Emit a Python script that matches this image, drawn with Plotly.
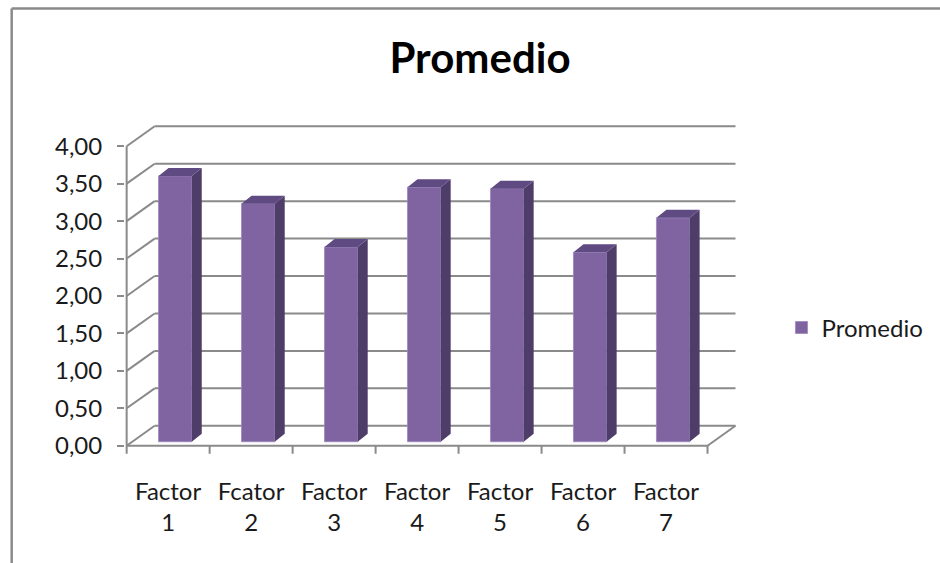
import plotly.graph_objects as go

# ---- data ----
categories = ["Factor<br>1", "Fcator<br>2", "Factor<br>3", "Factor<br>4",
              "Factor<br>5", "Factor<br>6", "Factor<br>7"]
values = [3.55, 3.18, 2.60, 3.40, 3.38, 2.53, 2.99]
y_ticks = [0, 0.5, 1.0, 1.5, 2.0, 2.5, 3.0, 3.5, 4.0]
y_tick_labels = ["0,00", "0,50", "1,00", "1,50", "2,00", "2,50", "3,00", "3,50", "4,00"]
series_name = "Promedio"

# ---- 3D-look geometry (in axis units) ----
PX_X = 83.0   # px per category
PX_Y = 75.0   # px per value unit
DX, DY = 28 / PX_X, 20 / PX_Y      # depth of the walls
FX, FY = 7 / PX_X, 4 / PX_Y        # bar front offset from the front plane
BX, BY = 10 / PX_X, 8 / PX_Y       # bar depth
W = 0.40                           # bar width

n = len(values)
x_min, x_max = -0.52, n - 0.5 + DX + 0.03
y_min, y_max = -0.03, 4 + DY + 0.03

W_FIG, H_FIG = 940, 563
front_left_px, front_bottom_px = 127, 446
l = front_left_px - (-0.5 - x_min) * PX_X
plot_w = (x_max - x_min) * PX_X
r = W_FIG - l - plot_w
b = H_FIG - front_bottom_px - (0 - y_min) * PX_Y
plot_h = (y_max - y_min) * PX_Y
t = H_FIG - b - plot_h

FRONT = "#8064A2"
SIDE = "#4E3D69"
TOP = "#5F4B82"
GRID = "#8a8a8a"
FONT = "Lato"
FS = 24

fig = go.Figure()

# front faces
xs = [i + FX for i in range(n)]
fig.add_trace(go.Bar(
    x=xs, y=values, base=[FY] * n, width=W,
    marker=dict(color=FRONT, line=dict(color="#9c88bd", width=0.8)),
    name=series_name, showlegend=True, hoverinfo="skip",
))

# side and top faces
sx, sy = [], []
tx, ty = [], []
for i, v in enumerate(values):
    xl = i + FX - W / 2
    xr = i + FX + W / 2
    b0 = FY
    sx += [xr, xr + BX, xr + BX, xr, xr, None]
    sy += [b0, b0 + BY, b0 + BY + v, b0 + v, b0, None]
    tx += [xl, xr, xr + BX, xl + BX, xl, None]
    ty += [b0 + v, b0 + v, b0 + v + BY, b0 + v + BY, b0 + v, None]
fig.add_trace(go.Scatter(x=sx, y=sy, fill="toself", fillcolor=SIDE, mode="lines",
                         line=dict(width=0, color=SIDE), showlegend=False, hoverinfo="skip"))
fig.add_trace(go.Scatter(x=tx, y=ty, fill="toself", fillcolor=TOP, mode="lines",
                         line=dict(width=0, color=TOP), showlegend=False, hoverinfo="skip"))

shapes = []
gl = dict(color=GRID, width=2)
x0f, x1f = -0.5, n - 0.5
for v in y_ticks:
    shapes.append(dict(type="line", xref="x", yref="y", x0=x0f + DX, x1=x1f + DX,
                       y0=v + DY, y1=v + DY, line=gl, layer="below"))
    shapes.append(dict(type="line", xref="x", yref="y", x0=x0f, x1=x0f + DX,
                       y0=v, y1=v + DY, line=gl, layer="below"))
shapes.append(dict(type="line", xref="x", yref="y", x0=x0f, x1=x0f, y0=0, y1=y_ticks[-1],
                   line=gl, layer="below"))
shapes.append(dict(type="line", xref="x", yref="y", x0=x0f, x1=x1f, y0=0, y1=0,
                   line=gl, layer="below"))
shapes.append(dict(type="line", xref="x", yref="y", x0=x1f, x1=x1f + DX, y0=0, y1=DY,
                   line=gl, layer="below"))
y_paper0 = (0 - y_min) / (y_max - y_min)
tick_len = 8 / plot_h
for k in range(n + 1):
    xb = k - 0.5
    shapes.append(dict(type="line", xref="x", yref="paper", x0=xb, x1=xb,
                       y0=y_paper0, y1=y_paper0 - tick_len, line=gl, layer="below"))
bx = (12 - l) / plot_w
by = (H_FIG - b - 8) / plot_h
shapes.append(dict(type="line", xref="paper", yref="paper", x0=bx, x1=bx,
                   y0=by, y1=-b / plot_h - 0.05, line=dict(color="#8a8a8a", width=2.5)))
shapes.append(dict(type="line", xref="paper", yref="paper", x0=bx, x1=(W_FIG - l) / plot_w + 0.05,
                   y0=by, y1=by, line=dict(color="#8a8a8a", width=2.5)))

fig.update_layout(
    width=W_FIG, height=H_FIG,
    margin=dict(l=l, r=r, t=t, b=b, pad=0),
    paper_bgcolor="white", plot_bgcolor="white",
    shapes=shapes,
    title=dict(text="<b>Promedio</b>", font=dict(family=FONT, size=42, color="#000000"),
               x=480 / W_FIG, xanchor="center", y=1 - 58 / H_FIG, yanchor="middle",
               xref="container", yref="container"),
    xaxis=dict(range=[x_min, x_max], tickmode="array", tickvals=list(range(n)),
               ticktext=categories, showgrid=False, zeroline=False, showline=False,
               ticks="", ticklabelstandoff=27,
               tickfont=dict(family=FONT, size=FS, color="#1a1a1a")),
    yaxis=dict(range=[y_min, y_max], tickmode="array", tickvals=y_ticks,
               ticktext=y_tick_labels, showgrid=False, zeroline=False, showline=False,
               ticks="outside", ticklen=7, tickwidth=2, tickcolor=GRID,
               ticklabelstandoff=10,
               tickfont=dict(family=FONT, size=FS, color="#1a1a1a")),
    legend=dict(x=(782 - l) / plot_w, xanchor="left", y=(H_FIG - b - 328) / plot_h,
                yanchor="middle", font=dict(family=FONT, size=FS, color="#1a1a1a"),
                bgcolor="rgba(0,0,0,0)"),
    showlegend=True,
)

fig.write_html("out.html")
